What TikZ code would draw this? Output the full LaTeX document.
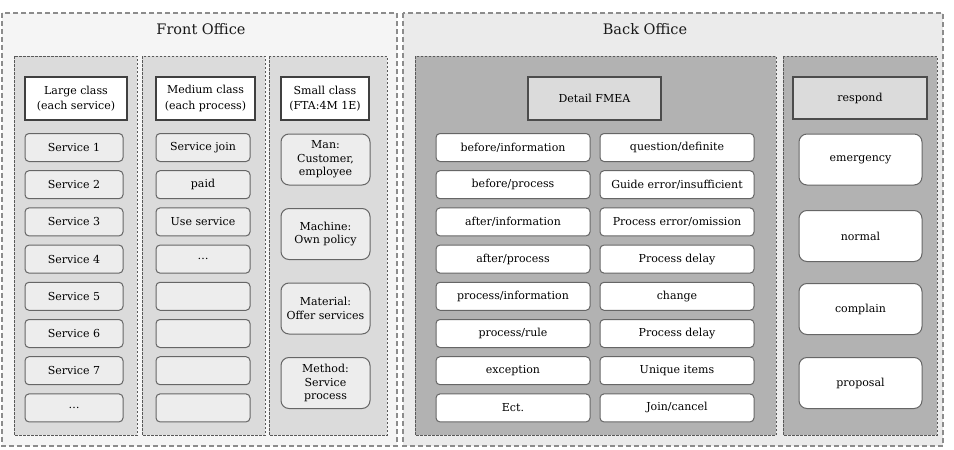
\documentclass[tikz,border=0pt]{standalone}
\usepackage{fontspec}
\setmainfont{DejaVu Serif}
\begin{document}
\begin{tikzpicture}[x=1pt,y=-1pt,
  outerbox/.style={draw=black!45,dash pattern=on 5pt off 3pt,line width=1.1pt},
  panel/.style={draw=black!65,dash pattern=on 2.5pt off 1.5pt,line width=0.9pt},
  title/.style={font=\fontsize{14.5}{16}\selectfont,text=black!90},
  fhead/.style={draw=black!75,line width=1.4pt,fill=white,align=center,inner sep=1pt,
    font=\fontsize{11}{15.5}\selectfont,text=black},
  bhead/.style={draw=black!70,line width=1.2pt,fill=black!14,align=center,inner sep=1pt,
    font=\fontsize{11}{13}\selectfont,text=black},
  fitem/.style={draw=black!60,line width=1pt,fill=black!7,rounded corners=4pt,align=center,
    inner sep=1pt,font=\fontsize{11}{13.5}\selectfont,text=black},
  bitem/.style={draw=black!60,line width=1pt,fill=white,rounded corners=4pt,align=center,
    inner sep=1pt,font=\fontsize{11}{13.5}\selectfont,text=black},
  bigitem/.style={rounded corners=8pt,minimum height=51pt}
]
\useasboundingbox (0,0) rectangle (954,450);
% outer offices
\draw[outerbox,fill=black!4] (2,13) rectangle (397,446);
\draw[outerbox,fill=black!8] (403,13) rectangle (943,446);
\node[title] (fo) at (201,29) {Front Office};
\node[title] (bo) at (645,29) {Back Office};
% front columns
\draw[panel,fill=black!14] (14,56) rectangle (137,435);
\draw[panel,fill=black!14] (142,56) rectangle (265,435);
\draw[panel,fill=black!14] (269,56) rectangle (387,435);
% back panels
\draw[panel,fill=black!30] (415,56) rectangle (776,435);
\draw[panel,fill=black!30] (783,56) rectangle (937,435);
% front headers
\node[fhead,minimum width=102pt,minimum height=43pt] (h1) at (76,98.5) {Large class\\(each service)};
\node[fhead,minimum width=99pt,minimum height=43pt] (h2) at (205.5,98.5) {Medium class\\(each process)};
\node[fhead,minimum width=88pt,minimum height=43pt] (h3) at (325,98.5) {Small class\\(FTA:4M 1E)};
% column 1
\foreach \t [count=\i] in {Service 1,Service 2,Service 3,Service 4,Service 5,Service 6,Service 7,\dots}{
  \node[fitem,minimum width=98pt,minimum height=28pt] (a\i) at (74,{147.5+37.2*(\i-1)}) {\t};
}
% column 2
\foreach \t [count=\i] in {Service join,paid,Use service,\dots,{},{},{},{}}{
  \node[fitem,minimum width=94pt,minimum height=28pt] (b\i) at (203,{147.5+37.2*(\i-1)}) {\t};
}
% column 3
\node[fitem,bigitem,minimum width=89pt] (c1) at (325.5,159.5) {Man:\\Customer,\\employee};
\node[fitem,bigitem,minimum width=89pt] (c2) at (325.5,234) {Machine:\\Own policy};
\node[fitem,bigitem,minimum width=89pt] (c3) at (325.5,308.5) {Material:\\Offer services};
\node[fitem,bigitem,minimum width=89pt] (c4) at (325.5,383) {Method:\\Service\\process};
% back headers
\node[bhead,minimum width=133pt,minimum height=43pt] (dh) at (594.5,98.5) {Detail FMEA};
\node[bhead,minimum width=134pt,minimum height=42pt] (rh) at (860,98) {respond};
% back col A
\foreach \t [count=\i] in {before/information,before/process,after/information,after/process,process/information,process/rule,exception,Ect.}{
  \node[bitem,minimum width=154pt,minimum height=28pt] (d\i) at (513,{147.5+37.2*(\i-1)}) {\t};
}
% back col B
\foreach \t [count=\i] in {question/definite,Guide error/insufficient,Process error/omission,Process delay,change,Process delay,Unique items,Join/cancel}{
  \node[bitem,minimum width=154pt,minimum height=28pt] (e\i) at (677,{147.5+37.2*(\i-1)}) {\t};
}
% respond items
\node[bitem,bigitem,minimum width=123pt] (r1) at (860.5,159.5) {emergency};
\node[bitem,bigitem,minimum width=123pt] (r2) at (860.5,236) {normal};
\node[bitem,bigitem,minimum width=123pt] (r3) at (860.5,309) {complain};
\node[bitem,bigitem,minimum width=123pt] (r4) at (860.5,383) {proposal};
\end{tikzpicture}
\end{document}
